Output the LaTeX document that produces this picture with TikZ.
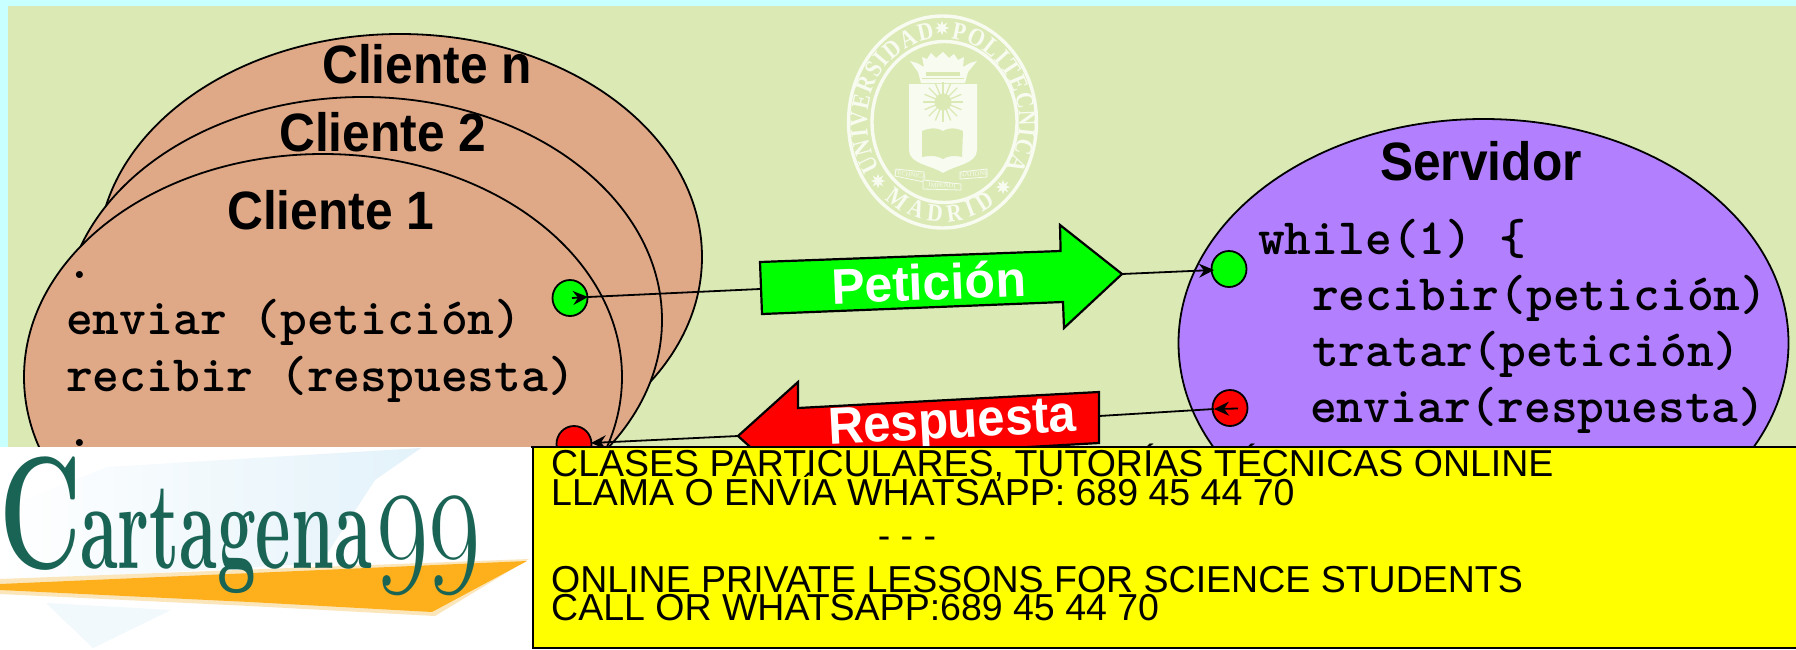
\documentclass[tikz,border=0pt]{standalone}
\usepackage{fontspec}
\usetikzlibrary{shapes.geometric,arrows.meta,decorations.text}
\newfontfamily\sansf{Liberation Sans}
\newfontfamily\seriff{Liberation Serif}
\newfontfamily\sealf[FakeStretch=0.87]{Liberation Serif}
\definecolor{bgcyan}{HTML}{C8FFFF}
\definecolor{bggreen}{HTML}{DBE9B5}
\definecolor{clientc}{HTML}{DFA988}
\definecolor{serverc}{HTML}{B280FF}
\definecolor{logow}{HTML}{F8FBF0}
\definecolor{tealc}{HTML}{1A6455}
\definecolor{orangec}{HTML}{FDB01C}
\definecolor{creamc}{HTML}{FBE6BC}
\definecolor{paleb}{HTML}{E3F2FA}
\definecolor{pureyellow}{HTML}{FFFF00}
\definecolor{puregreen}{HTML}{00FF00}
\definecolor{purered}{HTML}{FF0000}
\newcommand{\narrowtitle}[1]{\scalebox{0.92}[1]{#1}}
\tikzset{
  bubble/.style={ellipse,draw=black,line width=1.8pt,inner sep=0pt,outer sep=0pt},
  client/.style={bubble,fill=clientc,minimum width=598pt,minimum height=446pt},
  dot/.style={ellipse,draw=black,line width=1.8pt,inner sep=0pt,minimum width=35pt,minimum height=36pt},
  title/.style={anchor=base west,inner sep=0pt,font=\sansf\bfseries\fontsize{54}{54}\selectfont},
  code/.style={anchor=base west,inner sep=0pt,font=\ttfamily\bfseries\addfontfeature{FakeBold=3.5}\fontsize{51}{51}\selectfont},
  arrowlabel/.style={anchor=base west,inner sep=0pt,text=white},
  conn/.style={draw=black,line width=1.8pt},
  head/.style={conn,-{Stealth[length=15pt,width=14pt,inset=5pt]}},
  bigarrow/.style={draw=black,line width=2.2pt,line join=miter},
  notice/.style={anchor=base west,inner sep=0pt,font=\sansf\fontsize{37.5}{37.5}\selectfont},
  ring/.style={draw=logow,line width=3.4pt},
  tinylogo/.style={inner sep=0pt,text=logow,font=\seriff\fontsize{6.5}{6.5}\selectfont},
  seal/.style={star,star points=8,star point ratio=2.2,fill=logow,draw=none,minimum size=15pt,inner sep=0pt}
}
\begin{document}
\begin{tikzpicture}[x=1pt,y=-1pt]
\useasboundingbox (0,0) rectangle (1796,649);
\fill[bgcyan] (0,0) rectangle (1796,649);
\fill[bggreen] (8,6) rectangle (1796,649);
% ---------- logo
\draw[ring] (942.5,122) ellipse [x radius=94,y radius=106];
\draw[ring] (944.5,122) ellipse [x radius=72.5,y radius=80.5];
\begin{scope}[shift={(943,122)},x=1pt,y=1pt]
  \path[decorate,decoration={text along path,text align={fit to path},
     text={|\sealf\bfseries\fontsize{25}{25}\selectfont\color{logow}|UNIVERSIDAD}}]
     (213.7:76 and 84) arc[start angle=213.7,end angle=96,x radius=76,y radius=84];
  \path[decorate,decoration={text along path,text align={fit to path},
     text={|\sealf\bfseries\fontsize{25}{25}\selectfont\color{logow}|POLITECNICA}}]
     (84:76 and 84) arc[start angle=84,end angle=-33,x radius=76,y radius=84];
  \path[decorate,decoration={text along path,text align={fit to path},
     text={|\sealf\bfseries\fontsize{25}{25}\selectfont\color{logow}|MADRID}}]
     (230:91 and 100) arc[start angle=230,end angle=305,x radius=91,y radius=100];
\end{scope}
\node[seal] (sa) at (942,28) {};
\node[seal] (sb) at (878,181) {};
\node[seal] (sc) at (1003,187) {};
% crown
\fill[logow] (910,61) -- (917,63) -- (924,67) -- (922,57) -- (927,59) -- (931,53) -- (936,58) -- (943,52) -- (949,58) -- (954,54) -- (958,60) -- (964,57) -- (963,67) -- (970,63) -- (977,61) -- (968,72) -- (965,83) -- (921,83) -- (918,72) -- cycle;
\fill[bggreen] (926,72) rectangle (960,75.5);
\fill[bggreen] (922,78) rectangle (964,79);
% shield
\fill[logow] (909,84) -- (977,84) -- (977,150) .. controls (977,164) and (955,165) .. (943,173) .. controls (931,165) and (909,164) .. (909,150) -- cycle;
% sun
\foreach \a in {0,22.5,...,337.5}{\draw[bggreen,line width=1.3pt] (943,102) -- ++(\a:20);}
\fill[bggreen] (943,102) circle (8.5);
% book
\fill[bggreen] (922,131) .. controls (932,127) and (938,128) .. (943,131) .. controls (948,128) and (954,127) .. (963,131) -- (962,157) .. controls (954,155) and (948,156) .. (943,159) .. controls (938,156) and (932,155) .. (922,157) -- cycle;
% ribbons
\draw[logow,line width=.8pt,fill=bggreen] (896,169) -- (924,172) -- (924,182) -- (895,176) -- cycle;
\draw[logow,line width=.8pt,fill=bggreen] (923,180) -- (961,184) -- (961,190) -- (923,189) -- cycle;
\draw[logow,line width=.8pt,fill=bggreen] (960,172) -- (987,169) -- (987,177) -- (960,179) -- cycle;
\node[tinylogo,rotate=-8] (rl) at (910,174.5) {TECHNICA};
\node[tinylogo,rotate=-3] (rm) at (942,185.5) {IMPENDI};
\node[tinylogo,rotate=5] (rr) at (974,174) {NATIONE};
% ---------- clients
\node[client,minimum width=604pt] (cn) at (400,257) {};
\node[client] (c2) at (363,320) {};
\node[client] (c1) at (323,377) {};
\node[title] (tn) at (322,83) {\narrowtitle{Cliente n}};
\node[title] (t2) at (279,151) {\narrowtitle{Cliente 2}};
\node[title] (t1) at (227,229) {\narrowtitle{Cliente 1}};
\node[code] (d1) at (66,278) {.};
\node[code] (l1) at (66,334) {enviar (petición)};
\node[code] (l2) at (66,391) {recibir (respuesta)};
\node[code] (d2) at (66,446) {.};
% ---------- server
\node[bubble,fill=serverc,minimum width=610pt,minimum height=448pt] (srv) at (1483.5,343) {};
\node[title] (ts) at (1380,180) {\narrowtitle{Servidor}};
\node[code] (s1) at (1258,254) {while(1) \{};
\node[code] (s2) at (1312,310) {recibir(petición)};
\node[code] (s3) at (1312,366) {tratar(petición)};
\node[code] (s4) at (1310,422) {enviar(respuesta)};
% ---------- dots
\node[dot,fill=puregreen] (cg) at (570,298) {};
\node[dot,fill=purered] (cr) at (574,444) {};
\node[dot,fill=puregreen] (sg) at (1229,269) {};
\node[dot,fill=purered] (sr) at (1230,408) {};
% ---------- big arrows
\draw[bigarrow,fill=puregreen] (760,262) -- (1060.6,251) -- (1060,225) -- (1122,274) -- (1064,328) -- (1063,302) -- (762,314) -- cycle;
\draw[bigarrow,fill=purered] (1099,392) -- (798,408) -- (798,382) -- (738,436) -- (798,490) -- (800,460) -- (1099,443) -- cycle;
\coordinate (pl) at (760,289);
\coordinate (pr) at (1122,274);
\coordinate (rr1) at (1099,416);
\coordinate (rl1) at (738,436);
\coordinate (cgb) at (572,298);
\coordinate (cgt) at (588,297);
\coordinate (sgt) at (1214,270);
\coordinate (srb) at (1238,408.5);
\coordinate (srt) at (1214,409);
\coordinate (crt) at (591,443);
\draw[conn] (pl) -- (cgt);
\draw[head] (cgb) -- (cgt);
\draw[head] (pr) -- (sgt);
\draw[conn] (rr1) -- (srt);
\draw[head] (srb) -- (srt);
\draw[head] (rl1) -- (crt);
\node[arrowlabel,rotate=2.3,font=\sansf\bfseries\fontsize{50}{50}\selectfont] (pet) at (832,304) {Petición};
\node[arrowlabel,rotate=3,font=\sansf\bfseries\fontsize{52}{52}\selectfont] (res) at (829,444.5) {\scalebox{0.943}[1]{Respuesta}};
% ---------- bottom banner logo
\fill[white] (0,447) rectangle (534,649);
\shade[left color=white,right color=paleb] (0,510) -- (107,467) -- (421,448) -- (375,480) -- (321,563) -- (0,582) -- cycle;
\fill[paleb!50!white] (46,603) -- (171,610) -- (93,648) -- cycle;
\fill[creamc] (0,579) -- (529,559) -- (435,616) -- (250,606) -- (0,594) -- cycle;
\fill[orangec] (0,584) -- (527,561) -- (432,612) -- (250,602) -- (0,590) -- cycle;
\node[inner sep=0pt,anchor=base west,text=tealc] (lc) at (-1,568) {\scalebox{0.633}[1]{\fontsize{160}{160}\selectfont\bfseries C}};
\node[inner sep=0pt,anchor=base west,text=tealc] (la) at (80,568) {\scalebox{0.55}[1]{\fontsize{125}{125}\selectfont\bfseries artagena}};
\node[inner sep=0pt,anchor=base west,text=tealc] (l9) at (376,593) {\scalebox{0.77}[1]{\fontsize{148}{148}\selectfont 99}};
% ---------- notice
\draw[black,line width=2pt,fill=pureyellow] (533,447) rectangle (1800,648);
\draw[black,line width=2pt] (531,447) -- (1800,447);
\node[notice] (n1) at (551,476) {CLASES PARTICULARES, TUTORÍAS TÉCNICAS ONLINE};
\node[notice] (n2) at (551,505) {LLAMA O ENVÍA WHATSAPP: 689 45 44 70};
\node[notice,anchor=base] (n3) at (907,548) {- - -};
\node[notice] (n4) at (551,592) {ONLINE PRIVATE LESSONS FOR SCIENCE STUDENTS};
\node[notice] (n5) at (551,620) {CALL OR WHATSAPP:689 45 44 70};
\end{tikzpicture}
\end{document}
